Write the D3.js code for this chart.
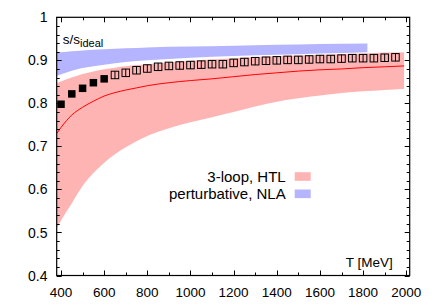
<!DOCTYPE html>
<html>
<head>
<meta charset="utf-8">
<script src="https://cdn.jsdelivr.net/npm/d3@7"></script>
<style>
  html, body { margin: 0; padding: 0; background: #fff; }
  svg { display: block; font-family: "Liberation Sans", Arial, Helvetica, sans-serif; }
</style>
</head>
<body>
<svg id="chart" width="436" height="305"></svg>
<script>
// ---- data ----
const htlT     = [380, 400, 450, 500, 550, 600, 650, 700, 750, 800, 900, 1000, 1100, 1200, 1300, 1400, 1500, 1600, 1700, 1800, 1900, 1990];
const htlLow   = [0.510, 0.528, 0.568, 0.608, 0.638, 0.662, 0.682, 0.698, 0.712, 0.724, 0.742, 0.756, 0.768, 0.780, 0.793, 0.804, 0.812, 0.818, 0.824, 0.828, 0.831, 0.834];
const htlMid   = [0.730, 0.744, 0.773, 0.791, 0.805, 0.817, 0.825, 0.831, 0.836, 0.841, 0.848, 0.853, 0.857, 0.862, 0.867, 0.871, 0.875, 0.878, 0.880, 0.883, 0.885, 0.887];
const htlHigh  = [0.847, 0.851, 0.860, 0.868, 0.874, 0.879, 0.883, 0.886, 0.889, 0.891, 0.895, 0.899, 0.902, 0.905, 0.908, 0.910, 0.911, 0.913, 0.915, 0.916, 0.918, 0.919];

const nlaT     = [380, 450, 500, 600, 700, 800, 1000, 1200, 1400, 1600, 1820];
const nlaLow   = [0.864, 0.876, 0.882, 0.890, 0.896, 0.900, 0.906, 0.910, 0.913, 0.916, 0.919];
const nlaHigh  = [0.918, 0.921, 0.923, 0.926, 0.928, 0.930, 0.932, 0.934, 0.936, 0.938, 0.939];

const filledT  = [400, 450, 500, 550, 600];
const filledS  = [0.798, 0.822, 0.835, 0.848, 0.857];

const openT    = [650, 700, 750, 800, 850, 900, 950, 1000, 1050, 1100, 1150, 1200, 1250, 1300, 1350, 1400, 1450, 1500, 1550, 1600, 1650, 1700, 1750, 1800, 1850, 1900, 1950];
const openS    = [0.866, 0.871, 0.877, 0.881, 0.885, 0.887, 0.888, 0.889, 0.890, 0.891, 0.891, 0.894, 0.896, 0.898, 0.899, 0.900, 0.901, 0.901, 0.902, 0.903, 0.903, 0.904, 0.905, 0.905, 0.905, 0.906, 0.907];
const openErr  = 0.009;

const xTicks   = [400, 600, 800, 1000, 1200, 1400, 1600, 1800, 2000];
const yTicks   = [0.4, 0.5, 0.6, 0.7, 0.8, 0.9, 1];
const yTickLabels = ["0.4", "0.5", "0.6", "0.7", "0.8", "0.9", "1"];

const legendLabels = ["3-loop, HTL", "perturbative, NLA"];
const legendColors = ["#ffb4b4", "#b4b4ff"];

// ---- layout ----
const L = 56.7, R = 409.7, T = 17.3, B = 275.5;
const svg = d3.select("#chart");
const x = d3.scaleLinear().domain([380, 2016]).range([L, R]);
const y = d3.scaleLinear().domain([0.4, 1]).range([B, T]);

svg.append("defs").append("clipPath").attr("id", "clip")
  .append("rect").attr("x", L).attr("y", T).attr("width", R - L).attr("height", B - T);
const plot = svg.append("g").attr("clip-path", "url(#clip)");

// HTL band
const htl = htlT.map((t, i) => ({t, lo: htlLow[i], mid: htlMid[i], hi: htlHigh[i]}));
plot.append("path").datum(htl)
  .attr("fill", legendColors[0])
  .attr("d", d3.area().curve(d3.curveMonotoneX).x(d => x(d.t)).y0(d => y(d.lo)).y1(d => y(d.hi)));

// NLA band
const nla = nlaT.map((t, i) => ({t, lo: nlaLow[i], hi: nlaHigh[i]}));
plot.append("path").datum(nla)
  .attr("fill", legendColors[1])
  .attr("d", d3.area().curve(d3.curveMonotoneX).x(d => x(d.t)).y0(d => y(d.lo)).y1(d => y(d.hi)));

// central red line
plot.append("path").datum(htl)
  .attr("fill", "none").attr("stroke", "#ff0000").attr("stroke-width", 1)
  .attr("d", d3.line().curve(d3.curveMonotoneX).x(d => x(d.t)).y(d => y(d.mid)));

// filled squares
const fs = 7.5;
plot.selectAll("rect.filled").data(filledT.map((t, i) => ({t, s: filledS[i]})))
  .join("rect").attr("class", "filled")
  .attr("x", d => x(d.t) - fs / 2).attr("y", d => y(d.s) - fs / 2)
  .attr("width", fs).attr("height", fs).attr("fill", "#000");

// open squares with error bars
const os = 7.5;
const open = openT.map((t, i) => ({t, s: openS[i]}));
const og = plot.selectAll("g.open").data(open).join("g").attr("class", "open");
og.append("rect")
  .attr("x", d => x(d.t) - os / 2).attr("y", d => y(d.s) - os / 2)
  .attr("width", os).attr("height", os)
  .attr("fill", "none").attr("stroke", "#000").attr("stroke-width", 1);
og.append("line")
  .attr("x1", d => x(d.t)).attr("x2", d => x(d.t))
  .attr("y1", d => y(d.s - openErr)).attr("y2", d => y(d.s + openErr))
  .attr("stroke", "#000").attr("stroke-width", 1);

// ---- axes / frame ----
const axisG = svg.append("g");
const xMinor = d3.range(400, 2001, 100);
const yMinor = d3.range(0, 31).map(i => 0.4 + i * 0.02);
function tick(x1, y1, x2, y2) {
  axisG.append("line").attr("x1", x1).attr("y1", y1).attr("x2", x2).attr("y2", y2)
    .attr("stroke", "#000").attr("stroke-width", 1);
}
xMinor.forEach(v => {
  const major = v % 200 === 0;
  const len = major ? 5 : 3;
  const px = Math.round(x(v)) + 0.5;
  tick(px, B, px, B - len);
  tick(px, T, px, T + len);
});
yMinor.forEach(v => {
  const major = Math.abs(v * 10 - Math.round(v * 10)) < 1e-6;
  const len = major ? 5 : 3;
  const py = Math.round(y(v)) + 0.5;
  tick(L, py, L + len, py);
  tick(R, py, R - len, py);
});
svg.append("rect").attr("x", L).attr("y", T).attr("width", R - L).attr("height", B - T)
  .attr("fill", "none").attr("stroke", "#000").attr("stroke-width", 1.2);

// tick labels
svg.append("g").selectAll("text").data(xTicks).join("text")
  .attr("x", d => x(d)).attr("y", 296.5)
  .attr("text-anchor", "middle").attr("font-size", 13.5).attr("fill", "#000")
  .text(d => d);
svg.append("g").selectAll("text").data(yTicks).join("text")
  .attr("x", 47.5).attr("y", d => y(d)).attr("dy", "0.36em")
  .attr("text-anchor", "end").attr("font-size", 14).attr("fill", "#000")
  .text((d, i) => yTickLabels[i]);

// axis labels
const yl = svg.append("text").attr("x", 62.7).attr("y", 43.5).attr("font-size", 13.5).attr("fill", "#000");
yl.append("tspan").text("s/s");
yl.append("tspan").attr("dy", 3).attr("font-size", 11).text("ideal");

svg.append("text").attr("x", 392.7).attr("y", 267).attr("text-anchor", "end")
  .attr("font-size", 13.5).attr("fill", "#000").text("T [MeV]");

// legend
legendLabels.forEach((lab, i) => {
  const cy = 176.5 + i * 17.3;
  svg.append("text").attr("x", 285.7).attr("y", cy).attr("dy", "0.36em")
    .attr("text-anchor", "end").attr("font-size", 15).attr("fill", "#000").text(lab);
  svg.append("rect").attr("x", 294.7).attr("y", cy - 4.3).attr("width", 16).attr("height", 8.6)
    .attr("fill", legendColors[i]);
});
</script>
</body>
</html>
